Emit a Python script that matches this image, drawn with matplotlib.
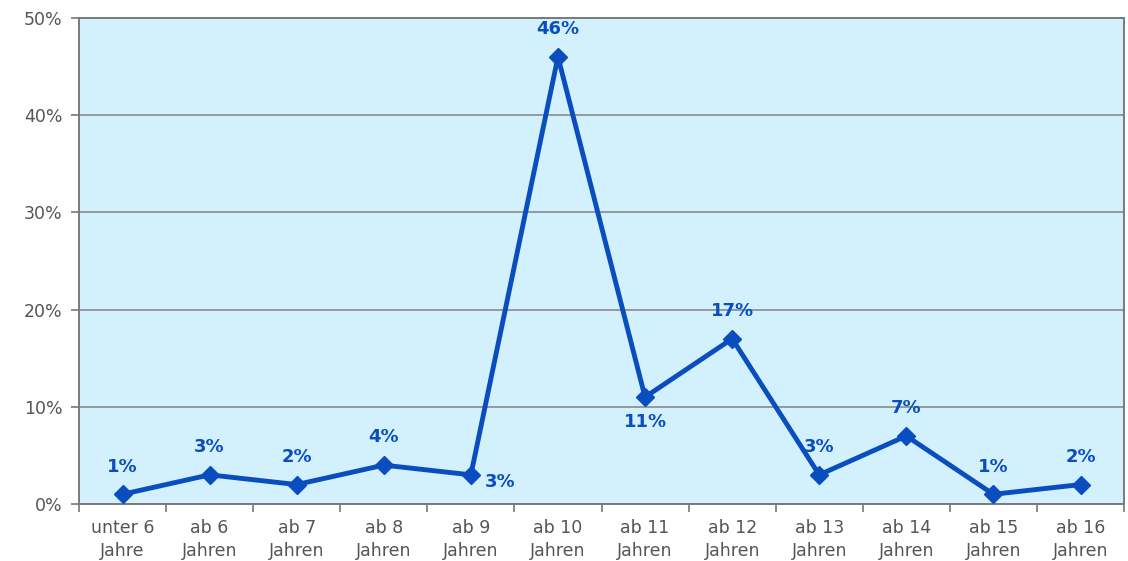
import matplotlib
matplotlib.use("Agg")
import matplotlib.pyplot as plt
from matplotlib.ticker import FixedLocator

categories = ["unter 6\nJahre", "ab 6\nJahren", "ab 7\nJahren", "ab 8\nJahren", "ab 9\nJahren",
              "ab 10\nJahren", "ab 11\nJahren", "ab 12\nJahren", "ab 13\nJahren", "ab 14\nJahren",
              "ab 15\nJahren", "ab 16\nJahren"]
values = [1, 3, 2, 4, 3, 46, 11, 17, 3, 7, 1, 2]
label_pos = ["above", "above", "above", "above", "right", "above", "below", "above", "above", "above", "above", "above"]
yticks = [0, 10, 20, 30, 40, 50]

plt.rcParams['font.family'] = ['DejaVu Sans']
fig = plt.figure(figsize=(11.28, 5.61), dpi=100)
ax = fig.add_axes([0.070, 0.1016, 0.9265, 0.8664])
ax.set_facecolor("#D2F1FD")
line_c = "#0A4DBE"
x = list(range(len(values)))
ax.plot(x, values, color=line_c, lw=3.5, marker="D", ms=9, zorder=3)
ax.set_xlim(-0.5, len(values) - 0.5)
ax.set_ylim(0, 50)
ax.set_yticks(yticks)
ax.set_yticklabels([f"{v}%" for v in yticks])
ax.yaxis.grid(True, color="#8A8A8A", lw=1.2)
ax.set_axisbelow(True)
ax.set_xticks(x)
ax.set_xticklabels(categories, linespacing=1.35)
ax.xaxis.set_minor_locator(FixedLocator([i + 0.5 for i in range(-1, len(values))]))
ax.tick_params(axis="x", which="major", length=0, pad=11, labelsize=12.5, labelcolor="#555555")
ax.tick_params(axis="x", which="minor", length=6, color="#777777", width=1.2)
ax.tick_params(axis="y", length=6, color="#777777", width=1.2, labelsize=12.5, labelcolor="#555555", pad=6)
for s in ax.spines.values():
    s.set_color("#7A7A7A")
    s.set_linewidth(1.4)

for xi, v, p in zip(x, values, label_pos):
    if p == "above":
        off = (0, 20)
    elif p == "below":
        off = (0, -18)
    else:
        off = (21, -5)
    ax.annotate(f"{v}%", (xi, v), xytext=off, textcoords="offset points", ha="center", va="center",
                fontsize=13, fontweight="bold", color=line_c)

fig.savefig("out.png", dpi=100)
